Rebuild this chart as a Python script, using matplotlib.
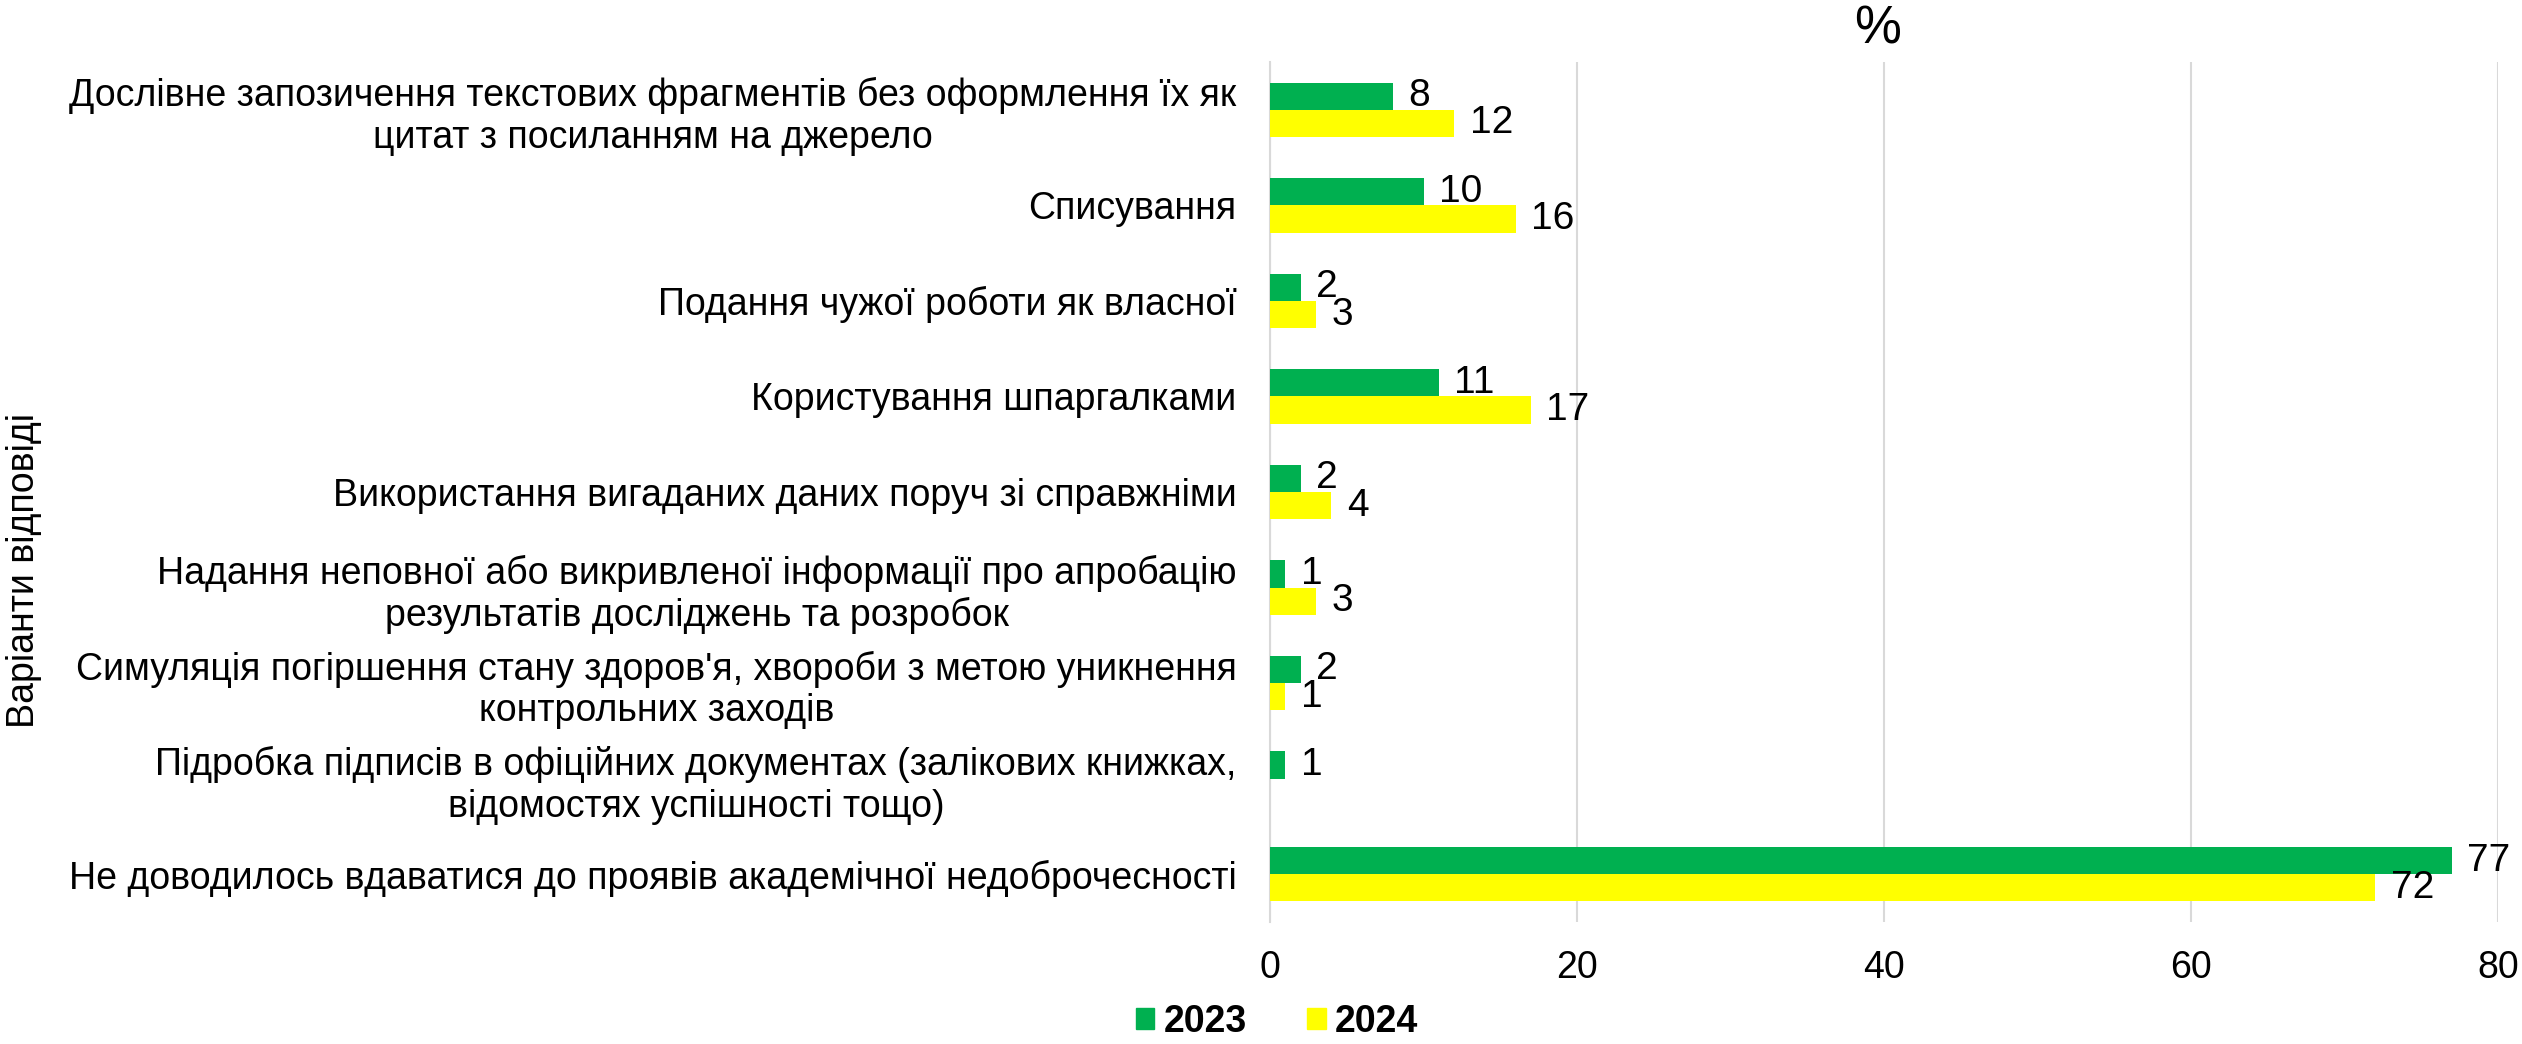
import matplotlib.pyplot as plt
from matplotlib.patches import Patch
import numpy as np

categories = [
    "Дослівне запозичення текстових фрагментів без оформлення їх як\nцитат з посиланням на джерело",
    "Списування",
    "Подання чужої роботи як власної",
    "Користування шпаргалками",
    "Використання вигаданих даних поруч зі справжніми",
    "Надання неповної або викривленої інформації про апробацію\nрезультатів досліджень та розробок",
    "Симуляція погіршення стану здоров'я, хвороби з метою уникнення\nконтрольних заходів",
    "Підробка підписів в офіційних документах (залікових книжках,\nвідомостях успішності тощо)",
    "Не доводилось вдаватися до проявів академічної недоброчесності",
]
values_2023 = [8, 10, 2, 11, 2, 1, 2, 1, 77]
values_2024 = [12, 16, 3, 17, 4, 3, 1, None, 72]
series_labels = ["2023", "2024"]
xticks = [0, 20, 40, 60, 80]

GREEN = '#00b050'
YELLOW = '#ffff00'

plt.rcParams['font.family'] = 'Liberation Sans'

DPI = 100
W, H = 2522, 1044
fig = plt.figure(figsize=(W / DPI, H / DPI), dpi=DPI)
ax = fig.add_axes([1270 / W, 1 - 922 / H, (2498 - 1270) / W, (922 - 62) / H])

y = np.arange(len(categories))
h = 0.285
v23 = np.array(values_2023, dtype=float)
v24 = np.array([np.nan if v is None else v for v in values_2024], dtype=float)

ax.barh(y - h / 2, v23, height=h, color=GREEN, zorder=3)
ax.barh(y + h / 2, np.nan_to_num(v24), height=h, color=YELLOW, zorder=3)

fs = 27
for i in range(len(categories)):
    ax.text(v23[i] + 1.0, y[i] - h / 2, str(values_2023[i]), va='center', ha='left', fontsize=28)
    if values_2024[i] is not None:
        ax.text(v24[i] + 1.0, y[i] + h / 2, str(values_2024[i]), va='center', ha='left', fontsize=28)

ax.set_xlim(0, 80)
ax.set_ylim(len(categories) - 0.5, -0.5)
ax.set_xticks(xticks)
ax.set_xticklabels([str(t) for t in xticks], fontsize=fs)
ax.set_yticks(y)
ax.set_yticklabels(categories, fontsize=fs)
for lbl in ax.get_yticklabels():
    lbl.set_multialignment('center')
ax.tick_params(axis='both', length=0)
ax.tick_params(axis='y', pad=24)
ax.tick_params(axis='x', pad=20)

ax.grid(axis='x', color='#d9d9d9', linewidth=1.5, zorder=0)
for s in ['top', 'right', 'bottom']:
    ax.spines[s].set_visible(False)
ax.spines['left'].set_color('#d9d9d9')
ax.spines['left'].set_linewidth(1.5)

fig.text(1878 / W, 1 - 30 / H, '%', fontsize=38, ha='center', va='center')
fig.text(24 / W, 1 - 571 / H, 'Варіанти відповіді', rotation=90, fontsize=fs,
         ha='center', va='center')

handles = [Patch(color=GREEN), Patch(color=YELLOW)]
fig.legend(handles, series_labels, loc='center', bbox_to_anchor=(1277 / W, 1 - 1022 / H),
           ncol=2, frameon=False, prop={'size': fs, 'weight': 'bold'},
           handlelength=0.5, handleheight=0.5, handletextpad=0.25, columnspacing=1.6)

plt.savefig('out.png', dpi=DPI)
